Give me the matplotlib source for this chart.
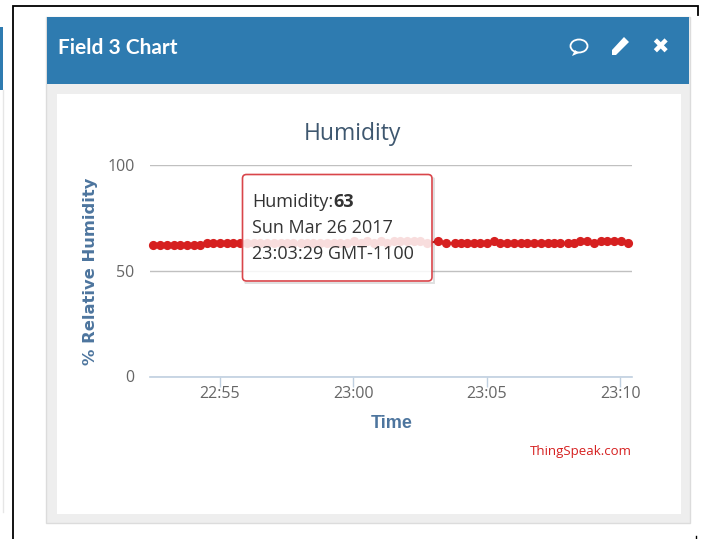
import matplotlib
matplotlib.use("Agg")
import matplotlib.pyplot as plt
import pandas as pd
from matplotlib.patches import Rectangle, FancyBboxPatch, Ellipse, Polygon

times = [
 "22:52:31","22:52:46",
 "22:53:02","22:53:17","22:53:31","22:53:46",
 "22:54:02","22:54:17","22:54:31","22:54:46",
 "22:55:02","22:55:17","22:55:31","22:55:46",
 "22:56:02","22:56:17","22:56:31","22:56:46",
 "22:57:02","22:57:17","22:57:31","22:57:46",
 "22:58:02","22:58:17","22:58:31","22:58:46",
 "22:59:02","22:59:17","22:59:31","22:59:46",
 "23:00:02","23:00:17","23:00:31","23:00:46",
 "23:01:02","23:01:17","23:01:31","23:01:46",
 "23:02:02","23:02:17","23:02:31","23:02:46",
 "23:03:11","23:03:29","23:03:49",
 "23:04:02","23:04:17","23:04:31","23:04:46",
 "23:05:02","23:05:17","23:05:31","23:05:46",
 "23:06:02","23:06:17","23:06:31","23:06:46",
 "23:07:02","23:07:17","23:07:31","23:07:46",
 "23:08:02","23:08:17","23:08:31","23:08:46",
 "23:09:02","23:09:17","23:09:31","23:09:46",
 "23:10:02","23:10:17",
]
humidity = [
 62,62,
 62,62,62,62,
 62,62,63,63,
 63,63,63,63,
 63,63,63,63,
 63,63,63,63,
 63,63,63,63,
 63,63,63,63,
 64,63,64,63,
 64,63,64,64,
 64,64,64,63,
 64,63,63,
 63,63,63,63,
 63,64,63,63,
 63,63,63,63,
 63,63,63,63,
 63,63,64,64,
 63,64,64,64,
 64,63,
]
y_ticks = [0, 50, 100]
x_tick_times = ["22:55:00", "23:00:00", "23:05:00", "23:10:00"]
x_tick_labels = ["22:55", "23:00", "23:05", "23:10"]
tooltip_lines = ["Sun Mar 26 2017", "23:03:29 GMT-1100"]

W, H = 706, 539
day = "2017-03-26 "
t = pd.to_datetime([day + s for s in times])

fig = plt.figure(figsize=(W/100, H/100), dpi=100, facecolor="white")
bg = fig.add_axes([0, 0, 1, 1], zorder=0)
bg.set_xlim(0, W); bg.set_ylim(H, 0); bg.axis("off")

# page furniture
bg.add_patch(Rectangle((0, 27), 2.5, 63, fc="#2e7bb0", ec="none"))
bg.plot([3, 3], [90, 512], color="#e6e6e6", lw=1)
bg.plot([12.5, 12.5, 698, 698], [539, 6, 6, 15], color="black", lw=1.3, solid_joinstyle="miter")
bg.plot([695.5, 695.5], [536, 539], color="black", lw=1)
bg.add_patch(Rectangle((46, 17), 644, 506, fc="#eeeeee", ec="#dcdcdc", lw=1))
bg.add_patch(Rectangle((47, 17), 642, 66.5, fc="#2e7bb0", ec="none"))
bg.add_patch(Rectangle((57, 93.5), 624, 420, fc="white", ec="none"))
bg.text(58, 48, "Field 3 Chart", color="white", family="Lato", weight="bold", fontsize=15, va="center", ha="left")
# header icons
bg.add_patch(Ellipse((579, 46), 17, 13, fc="none", ec="white", lw=1.3))
bg.add_patch(Polygon([(572, 56), (575, 50), (579, 53)], fc="white", ec="none"))
bg.add_patch(Polygon([(612, 50), (624, 37), (629, 42), (616, 55), (612, 55)], fc="white", ec="none"))
bg.text(660, 48, "\u2716", color="white", family="DejaVu Sans", fontsize=15, ha="center", va="center")

# chart
ax = fig.add_axes([150/W, 1-376.5/H, (632-150)/W, (376.5-165)/H], zorder=1)
ax.patch.set_alpha(0)
ax.plot(t, humidity, color="#d62020", lw=1.5, marker="o", ms=6.6, mew=0, zorder=3, clip_on=False)
ax.set_ylim(0, 100)
x0 = pd.Timestamp(day + "22:55:00")
per_px = pd.Timedelta(minutes=5) / 133.5
ax.set_xlim(x0 - per_px*(219.6-150), x0 + per_px*(632-219.6))
ax.set_yticks(y_ticks)
ax.set_xticks(pd.to_datetime([day + s for s in x_tick_times]))
ax.set_xticklabels(x_tick_labels)
ax.grid(axis="y", color="#c0c0c0", lw=1)
ax.set_axisbelow(True)
for s in ["top", "right", "left"]:
    ax.spines[s].set_visible(False)
ax.spines["bottom"].set_color("#c0d0e0"); ax.spines["bottom"].set_linewidth(1.2)
ax.tick_params(axis="x", length=7, color="#c0d0e0", width=1, pad=0, labelsize=11.5, labelcolor="#666666")
ax.tick_params(axis="y", length=0, pad=11, labelsize=11.5, labelcolor="#666666")
for lab in ax.get_xticklabels() + ax.get_yticklabels():
    lab.set_family("Open Sans")

# text in pixel space on top
top = fig.add_axes([0, 0, 1, 1], zorder=2)
top.set_xlim(0, W); top.set_ylim(H, 0); top.axis("off"); top.patch.set_alpha(0)
top.text(352.5, 134, "Humidity", color="#3e576f", family="Open Sans", fontsize=16.5, ha="center", va="center")
top.text(91, 271, "% Relative Humidity", color="#4d759e", family="DejaVu Sans", weight="bold", fontsize=11.8, rotation=90, ha="center", va="center")
top.text(391.5, 424, "Time", color="#4d759e", family="Liberation Sans", weight="bold", fontsize=13, ha="center", va="center")
top.text(632, 451, "ThingSpeak.com", color="#d62020", family="Open Sans", fontsize=9.5, ha="right", va="center")

# tooltip
top.add_patch(Polygon([(433, 177), (435, 178), (435, 284), (245, 284), (244, 282), (433, 282)], fc="#000000", alpha=0.12, ec="none"))
top.add_patch(FancyBboxPatch((242.5, 174.5), 189.5, 106.5, boxstyle="round,pad=0,rounding_size=4", fc=(1, 1, 1, 0.85), ec="#d9454a", lw=1.2))
c = "#333333"
fs = 13
t1 = top.text(252.5, 202, "Humidity:", color=c, family="Open Sans", fontsize=fs, va="center")
fig.canvas.draw()
bb = t1.get_window_extent().transformed(top.transData.inverted())
top.text(bb.x1, 202, str(63), color=c, family="Open Sans", weight="bold", fontsize=fs, va="center")
top.text(252.5, 228, tooltip_lines[0], color=c, family="Open Sans", fontsize=fs, va="center")
top.text(252.5, 254, tooltip_lines[1], color=c, family="Open Sans", fontsize=fs, va="center")

fig.savefig("out.png", dpi=100)
